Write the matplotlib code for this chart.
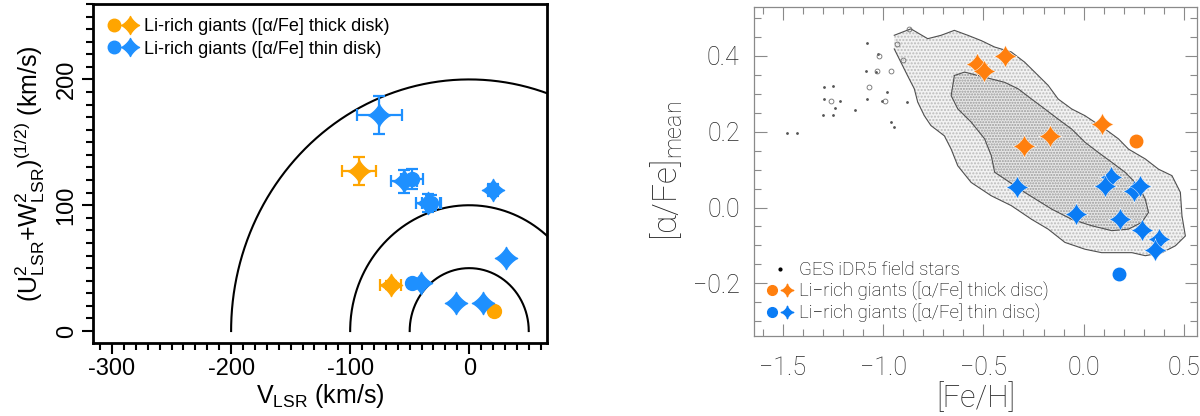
import numpy as np
import matplotlib
matplotlib.use('Agg')
import matplotlib.pyplot as plt
from matplotlib.path import Path
from matplotlib.lines import Line2D
from matplotlib.legend_handler import HandlerTuple
from matplotlib.ticker import MultipleLocator, FuncFormatter

plt.rcParams['mathtext.fontset'] = 'custom'
plt.rcParams['mathtext.rm'] = 'Liberation Sans'
plt.rcParams['mathtext.sf'] = 'Roboto:light'

# ---------------- left panel data (kinematics) ----------------
thick_star_v = [-92.5, -66.0]
thick_star_uw = [127.0, 36.5]
thick_star_verr = [14.0, 9.0]
thick_star_uwerr = [11.0, 3.0]
thick_circ_v = [20.6]
thick_circ_uw = [16.0]

thin_star_v = [-75.5, -54.6, -34.6, 20.0, 31.0, -40.6, -10.7, 11.6]
thin_star_uw = [172.0, 119.0, 102.0, 112.0, 58.0, 38.0, 22.0, 22.5]
thin_star_verr = [19.0, 11.0, 10.0, 4.0, 0.0, 0.0, 0.0, 0.0]
thin_star_uwerr = [15.0, 9.0, 7.0, 5.0, 0.0, 0.0, 0.0, 0.0]
thin_circ_v = [-48.0, -32.0, -48.0]
thin_circ_uw = [121.0, 102.0, 38.0]
thin_circ_verr = [9.0, 8.0, 0.0]
thin_circ_uwerr = [8.0, 6.0, 0.0]

arc_radii = [50, 100, 200]

# ---------------- right panel data (chemistry) ----------------
thick_star_feh = [-0.533, -0.497, -0.394, 0.093, -0.166, -0.297]
thick_star_afe = [0.377, 0.361, 0.399, 0.219, 0.188, 0.161]
thick_circ_feh = [0.263]
thick_circ_afe = [0.175]

thin_star_feh = [-0.331, 0.138, 0.106, 0.250, 0.281, -0.036, 0.182, 0.290, 0.376, 0.356]
thin_star_afe = [0.053, 0.081, 0.056, 0.044, 0.057, -0.016, -0.029, -0.058, -0.084, -0.112]
thin_circ_feh = [0.179]
thin_circ_afe = [-0.174]

# outer / inner density contours of the GES field stars
outer_feh = [-0.945, -0.862, -0.778, -0.711, -0.645, -0.578, -0.511, -0.444, -0.361, -0.294,
             -0.244, -0.177, -0.127, -0.060, 0.007, 0.107, 0.174, 0.224, 0.308, 0.374,
             0.441, 0.483, 0.491, 0.508, 0.458, 0.391, 0.308, 0.241, 0.174, 0.090,
             0.007, -0.093, -0.177, -0.260, -0.361, -0.461, -0.561, -0.628, -0.661, -0.695,
             -0.762, -0.795, -0.828, -0.845, -0.879, -0.912, -0.945]
outer_afe = [0.454, 0.471, 0.445, 0.454, 0.467, 0.454, 0.440, 0.423, 0.410, 0.383,
             0.357, 0.322, 0.286, 0.260, 0.242, 0.207, 0.181, 0.154, 0.128, 0.101,
             0.084, 0.040, -0.022, -0.075, -0.101, -0.119, -0.127, -0.119, -0.119, -0.119,
             -0.110, -0.092, -0.057, -0.031, 0.005, 0.031, 0.066, 0.110, 0.154, 0.189,
             0.216, 0.242, 0.278, 0.313, 0.348, 0.383, 0.418]
inner_feh = [-0.645, -0.594, -0.528, -0.461, -0.394, -0.327, -0.260, -0.194, -0.127, -0.060,
             0.007, 0.074, 0.141, 0.207, 0.274, 0.308, 0.324, 0.291, 0.224, 0.141,
             0.040, -0.060, -0.160, -0.294, -0.444, -0.461, -0.494, -0.561, -0.628, -0.661]
inner_afe = [0.348, 0.357, 0.348, 0.339, 0.330, 0.313, 0.286, 0.260, 0.233, 0.207,
             0.172, 0.145, 0.119, 0.093, 0.057, 0.022, -0.013, -0.039, -0.057, -0.061,
             -0.048, -0.031, -0.004, 0.040, 0.093, 0.137, 0.181, 0.225, 0.260, 0.295]

# sparse field stars outside the contours
field_feh = [-1.482, -1.432, -1.294, -1.249, -1.294, -1.240, -1.303, -1.249, -1.079, -1.088,
             -1.079, -1.034, -1.025, -0.963, -0.945, -0.981, -0.882, -1.008, -1.142, -1.214]
field_afe = [0.196, 0.196, 0.318, 0.319, 0.287, 0.261, 0.243, 0.243, 0.433, 0.361,
             0.287, 0.357, 0.405, 0.225, 0.212, 0.304, 0.278, 0.282, 0.256, 0.282]
island_feh = [-1.07, -1.03, -1.02, -0.99, -0.96, -0.93, -0.90, -1.26, -0.87]
island_afe = [0.318, 0.36, 0.40, 0.28, 0.36, 0.43, 0.39, 0.28, 0.47]


def star_path(p=0.8, n=60):
    t = np.linspace(0, 2*np.pi, 4*n, endpoint=False)
    c, s = np.cos(t), np.sin(t)
    x = np.sign(c)*np.abs(c)**(2/p)
    y = np.sign(s)*np.abs(s)**(2/p)
    v = np.column_stack([x, y])
    v = np.vstack([v, v[:1]])
    return Path(v, closed=True)


STAR = star_path(0.8)
STAR_R = star_path(0.7)

fig = plt.figure(figsize=(12, 4.16), dpi=100)

# ====================== left panel ======================
arial = 'Liberation Sans'
orange_l = '#FFA500'
blue_l = '#1E90FF'

ax1 = fig.add_axes([0.0775, 0.1755, 0.378, 0.815])
th = np.linspace(0, np.pi, 400)
for r in arc_radii:
    ax1.plot(r*np.cos(th), r*np.sin(th), color='black', lw=1.5, zorder=1)

ax1.errorbar(thick_star_v, thick_star_uw, xerr=thick_star_verr, yerr=thick_star_uwerr,
             fmt='none', ecolor=orange_l, elinewidth=1.6, capsize=4, capthick=1.6, zorder=2)
ax1.plot(thick_star_v, thick_star_uw, ls='none', marker=STAR, ms=16, color=orange_l, mec=orange_l, zorder=3)
ax1.plot(thick_circ_v, thick_circ_uw, ls='none', marker='o', ms=10, color=orange_l, mec=orange_l, zorder=3)

ax1.errorbar(thin_star_v, thin_star_uw, xerr=thin_star_verr, yerr=thin_star_uwerr,
             fmt='none', ecolor=blue_l, elinewidth=1.6, capsize=4, capthick=1.6, zorder=2)
ax1.errorbar(thin_circ_v, thin_circ_uw, xerr=thin_circ_verr, yerr=thin_circ_uwerr,
             fmt='none', ecolor=blue_l, elinewidth=1.6, capsize=4, capthick=1.6, zorder=2)
ax1.plot(thin_star_v, thin_star_uw, ls='none', marker=STAR, ms=16, color=blue_l, mec=blue_l, zorder=3)
ax1.plot(thin_circ_v, thin_circ_uw, ls='none', marker='o', ms=10, color=blue_l, mec=blue_l, zorder=3)

ax1.set_xlim(-316, 65)
ax1.set_ylim(-9.5, 260)
ax1.xaxis.set_major_locator(MultipleLocator(100))
ax1.xaxis.set_minor_locator(MultipleLocator(10))
ax1.yaxis.set_major_locator(MultipleLocator(100))
ax1.yaxis.set_minor_locator(MultipleLocator(10))
hyphen = FuncFormatter(lambda v, p: f'{v:.0f}')
ax1.xaxis.set_major_formatter(hyphen)
ax1.yaxis.set_major_formatter(hyphen)
ax1.tick_params(which='both', direction='out', width=1.5, top=False, right=False)
ax1.tick_params(which='major', length=8, labelsize=17, pad=3)
ax1.tick_params(which='minor', length=5)
for sp in ax1.spines.values():
    sp.set_linewidth(2)
for lab in ax1.get_xticklabels():
    lab.set_fontfamily(arial)
for lab in ax1.get_yticklabels():
    lab.set_fontfamily(arial)
    lab.set_rotation(90)
    lab.set_va('center')
ax1.set_xlabel(r'V$_{\mathrm{LSR}}$ (km/s)', fontsize=18, family=arial, labelpad=1)
ax1.set_ylabel(r'(U$^{\mathrm{2}}_{\mathrm{LSR}}$+W$^{\mathrm{2}}_{\mathrm{LSR}}$)$^{\mathrm{(1/2)}}$ (km/s)',
               fontsize=18, family=arial, labelpad=6)

h_thick = (Line2D([], [], ls='none', marker='o', ms=9, color=orange_l),
           Line2D([], [], ls='none', marker=STAR, ms=13, color=orange_l))
h_thin = (Line2D([], [], ls='none', marker='o', ms=9, color=blue_l),
          Line2D([], [], ls='none', marker=STAR, ms=13, color=blue_l))
ax1.legend([h_thick, h_thin],
           ['Li-rich giants ([\u03b1/Fe] thick disk)', 'Li-rich giants ([\u03b1/Fe] thin disk)'],
           handler_map={tuple: HandlerTuple(ndivide=None, pad=0.2)},
           loc='upper left', frameon=False, handlelength=1.6, handletextpad=0.4,
           borderaxespad=0.4, labelspacing=0.3, prop={'family': arial, 'size': 13})

# ====================== right panel ======================
thin_font = {'family': ['Roboto', 'DejaVu Sans'], 'weight': 'light'}
orange_r = '#FF7F0E'
blue_r = '#0A7CF5'
gray = '#8a8a8a'
txt = '#262626'

ax2 = fig.add_axes([0.628, 0.192, 0.3695, 0.7916])
ax2.fill(outer_feh, outer_afe, facecolor='#f2f2f2', edgecolor='none', zorder=0)
ax2.fill(outer_feh, outer_afe, facecolor='none', edgecolor='#bbbbbb', hatch='.....', lw=0, zorder=0)
ax2.fill(inner_feh, inner_afe, facecolor='#e6e6e6', edgecolor='none', zorder=0.5)
ax2.fill(inner_feh, inner_afe, facecolor='none', edgecolor='#9a9a9a', hatch='......', lw=0, zorder=0.5)
ax2.plot(outer_feh, outer_afe, color='#505050', lw=0.8, zorder=1)
ax2.plot(inner_feh + inner_feh[:1], inner_afe + inner_afe[:1], color='#505050', lw=0.8, zorder=1)
ax2.plot(field_feh, field_afe, ls='none', marker='.', ms=2, color='#555555', zorder=1)
ax2.plot(island_feh, island_afe, ls='none', marker='o', ms=3.5, mfc='none', mec='#707070', mew=0.6, zorder=1)

ax2.plot(thick_star_feh, thick_star_afe, ls='none', marker=STAR_R, ms=17, color=orange_r,
         mec='white', mew=0.3, zorder=3)
ax2.plot(thick_circ_feh, thick_circ_afe, ls='none', marker='o', ms=9, color=orange_r, mec=orange_r, zorder=3)
ax2.plot(thin_star_feh, thin_star_afe, ls='none', marker=STAR_R, ms=17, color=blue_r,
         mec='white', mew=0.3, zorder=3)
ax2.plot(thin_circ_feh, thin_circ_afe, ls='none', marker='o', ms=9, color=blue_r, mec=blue_r, zorder=3)

ax2.set_xlim(-1.647, 0.566)
ax2.set_ylim(-0.339, 0.529)
ax2.xaxis.set_major_locator(MultipleLocator(0.5))
ax2.xaxis.set_minor_locator(MultipleLocator(0.1))
ax2.yaxis.set_major_locator(MultipleLocator(0.2))
ax2.yaxis.set_minor_locator(MultipleLocator(0.05))
ax2.tick_params(which='both', direction='in', top=True, right=True, color=gray, width=0.8)
ax2.tick_params(which='major', length=9, labelsize=18, labelcolor=txt)
ax2.tick_params(axis='x', which='major', pad=14)
ax2.tick_params(axis='y', which='major', pad=10)
ax2.tick_params(which='minor', length=5)
for sp in ax2.spines.values():
    sp.set_color(gray)
    sp.set_linewidth(0.9)
fmt = FuncFormatter(lambda v, p: f'{v:.1f}'.replace('-', '\u2212'))
ax2.xaxis.set_major_formatter(fmt)
ax2.yaxis.set_major_formatter(fmt)
for lab in ax2.get_xticklabels() + ax2.get_yticklabels():
    lab.set_fontfamily(thin_font['family'])
    lab.set_fontweight('light')
ax2.set_xlabel('[Fe/H]', fontsize=22, color=txt, labelpad=2, **thin_font)
ax2.set_ylabel('[\u03b1/Fe]$_{\\mathsf{mean}}$', fontsize=24, color=txt, labelpad=6, **thin_font)

h_field = Line2D([], [], ls='none', marker='.', ms=4, color='black')
h_thick_r = (Line2D([], [], ls='none', marker='o', ms=7, color=orange_r),
             Line2D([], [], ls='none', marker=STAR_R, ms=9, color=orange_r))
h_thin_r = (Line2D([], [], ls='none', marker='o', ms=7, color=blue_r),
            Line2D([], [], ls='none', marker=STAR_R, ms=9, color=blue_r))
ax2.legend([h_field, h_thick_r, h_thin_r],
           ['GES iDR5 field stars', 'Li\u2212rich giants ([\u03b1/Fe] thick disc)',
            'Li\u2212rich giants ([\u03b1/Fe] thin disc)'],
           handler_map={tuple: HandlerTuple(ndivide=None, pad=0.2)},
           loc='lower left', frameon=False, handlelength=1.4, handletextpad=0.3,
           borderaxespad=0.3, labelspacing=0.15,
           prop={'family': thin_font['family'], 'weight': 'light', 'size': 13.5})

fig.savefig('out.png', dpi=100)
